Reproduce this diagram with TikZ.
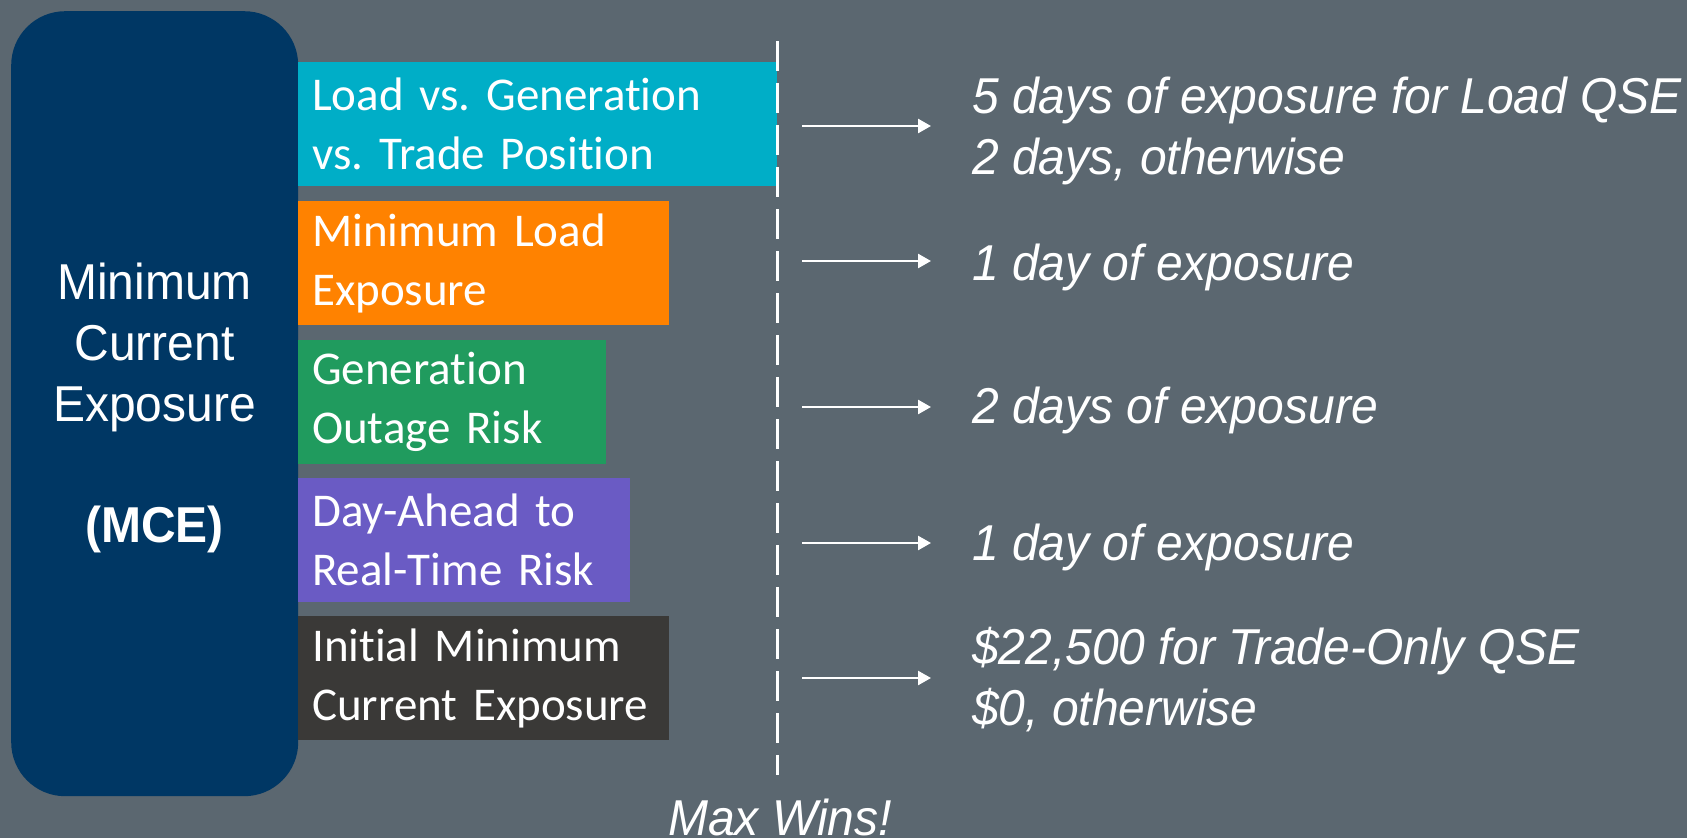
\documentclass[tikz,border=0pt]{standalone}
\usepackage{graphicx}
\usepackage{fontspec}
\setmainfont{Liberation Sans}
\newfontfamily\carlito[Ligatures=NoCommon]{Carlito}
\usetikzlibrary{arrows.meta}
\frenchspacing
\definecolor{bgc}{RGB}{91,103,112}
\definecolor{navy}{RGB}{0,55,100}
\definecolor{cyanbar}{RGB}{0,174,199}
\definecolor{orangebar}{RGB}{255,130,0}
\definecolor{greenbar}{RGB}{32,155,94}
\definecolor{purplebar}{RGB}{106,91,196}
\definecolor{darkbar}{RGB}{58,57,55}
\newcommand\stretchl[1]{\scalebox{1}[1.05]{\begin{tabular}{@{}l@{}}#1\end{tabular}}}
\newcommand\stretchc[1]{\scalebox{1}[1.05]{\begin{tabular}{@{}c@{}}#1\end{tabular}}}
\begin{document}
\begin{tikzpicture}[x=1pt,y=-1pt,
  barbox/.style={anchor=north west, inner xsep=14pt, inner ysep=0pt, minimum height=124pt,
    align=left, text=white, font=\carlito\fontsize{47}{59}\selectfont},
  outtext/.style={anchor=west, inner sep=0pt, text=white,
    font=\fontsize{48}{58}\selectfont\itshape},
  arr/.style={draw=white, line width=2.5pt, -{Triangle[length=13pt,width=14pt]}},
  dline/.style={draw=white, line width=3pt, dash pattern=on 30pt off 12pt}]
\fill[bgc] (0,0) rectangle (1687,838);
\useasboundingbox (0,0) rectangle (1687,838);

\node[fill=navy, rounded corners=54pt, minimum width=287pt, minimum height=785pt,
  anchor=north west, inner sep=0pt] (mce) at (11,11) {};
\node[text=white, font=\fontsize{48}{58}\selectfont, inner sep=0pt] (mcetext)
  at (154.5,409) {\stretchc{Minimum\\Current\\Exposure\\ \\ \textbf{(MCE)}}};

\node[barbox, fill=cyanbar, text width=451pt] (b1) at (298,62) {Load vs. Generation\\vs. Trade Position};
\node[barbox, fill=orangebar, text width=343pt] (b2) at (298,201) {Minimum Load\\Exposure};
\node[barbox, fill=greenbar, text width=280pt] (b3) at (298,340) {Generation\\Outage Risk};
\node[barbox, fill=purplebar, text width=304pt] (b4) at (298,478) {Day-Ahead to\\Real-Time Risk};
\node[barbox, fill=darkbar, text width=343pt] (b5) at (298,616) {Initial Minimum\\Current Exposure};

\coordinate (dtop) at (777,41);
\coordinate (dbot) at (777,775);
\draw[dline] (dtop) -- (dbot);

\node[outtext] (t1) at (972,132) {\stretchl{5 days of exposure for Load QSE\\2 days, otherwise}};
\node[outtext] (t2) at (972,268) {\stretchl{1 day of exposure}};
\node[outtext] (t3) at (972,411) {\stretchl{2 days of exposure}};
\node[outtext] (t4) at (972,548) {\stretchl{1 day of exposure}};
\node[outtext] (t5) at (972,683) {\stretchl{\$22,500 for Trade-Only QSE\\\$0, otherwise}};

\foreach \i/\y in {1/126,2/261,3/407,4/543,5/678}{
  \coordinate (s\i) at (802,\y);
  \coordinate (e\i) at (931,\y);
  \draw[arr] (s\i) -- (e\i);
}

\node[text=white, font=\fontsize{48}{58}\selectfont\itshape, anchor=base, inner sep=0pt] (maxwins)
  at (780,835) {\scalebox{1}[1.05]{Max Wins!}};
\end{tikzpicture}
\end{document}
